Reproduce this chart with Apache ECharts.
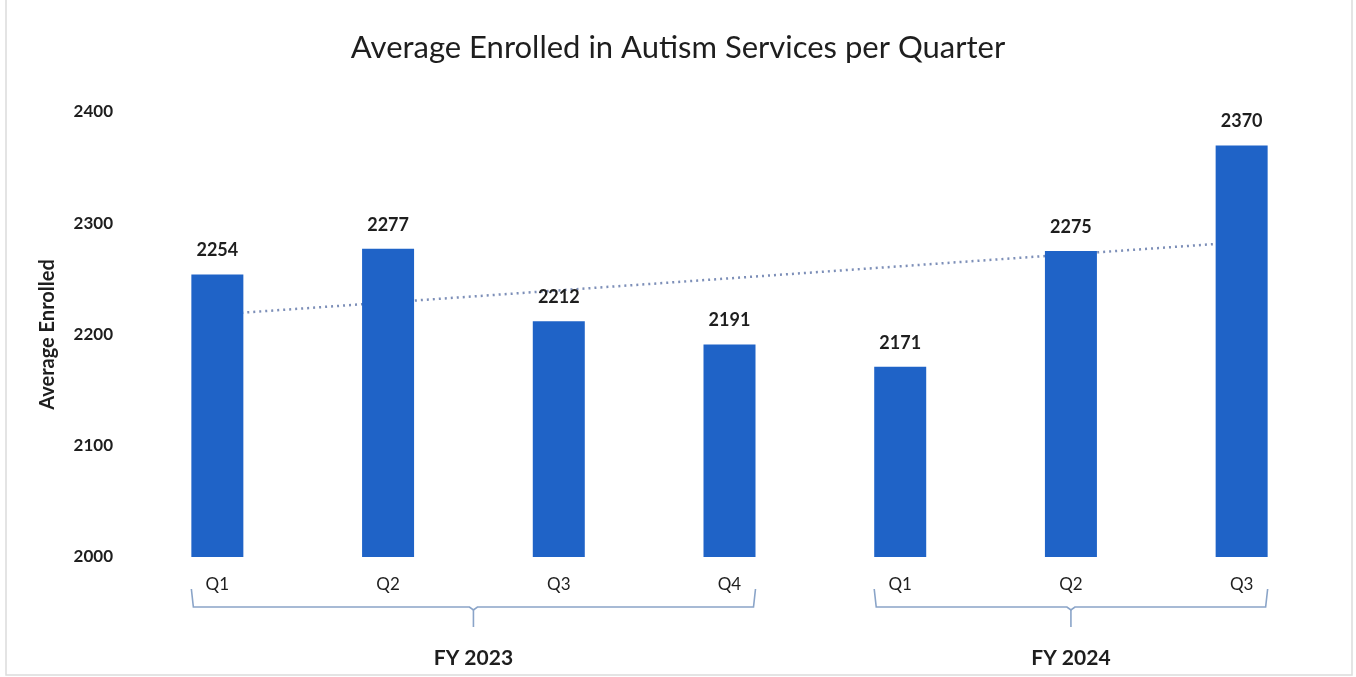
<!DOCTYPE html>
<html>
<head>
<meta charset="utf-8">
<script src="https://cdn.jsdelivr.net/npm/echarts@6/dist/echarts.min.js"></script>
<style>
  html, body { margin: 0; padding: 0; background: #ffffff; }
  #chart { width: 1356px; height: 677px; }
</style>
</head>
<body>
<div id="chart"></div>
<script>
// Quarter labels along the x axis
const quarters = ['Q1', 'Q2', 'Q3', 'Q4', 'Q1', 'Q2', 'Q3'];
// Average enrolled per quarter
const enrolled = [2254, 2277, 2212, 2191, 2171, 2275, 2370];
// Linear trend, value at the first and last quarter
const trendEnds = [2218, 2283];
// Fiscal-year groups: label, first and last quarter index
const fiscalYears = ['FY 2023', 'FY 2024'];
const fyFirst = [0, 4];
const fyLast = [3, 6];
// Y-axis ticks
const yTicks = [2000, 2100, 2200, 2300, 2400];

const FONT = 'Lato, "Open Sans", sans-serif';
const chart = echarts.init(document.getElementById('chart'), null, { renderer: 'canvas' });

const trendData = quarters.map((q, i) =>
  i === 0 ? trendEnds[0] : (i === quarters.length - 1 ? trendEnds[1] : '-'));

chart.setOption({
  backgroundColor: '#ffffff',
  animation: false,
  title: {
    text: 'Average Enrolled in Autism Services per Quarter',
    left: 'center',
    top: 27,
    textStyle: { fontFamily: FONT, fontSize: 31, fontWeight: 'normal', color: '#1e1e1e' }
  },
  grid: { left: 132, right: 29, top: 112, bottom: 120 },
  xAxis: {
    type: 'category',
    data: quarters,
    axisLine: { show: false },
    axisTick: { show: false },
    axisLabel: { fontFamily: FONT, fontSize: 17, color: '#1e1e1e', margin: 19 }
  },
  yAxis: {
    type: 'value',
    min: yTicks[0],
    max: yTicks[yTicks.length - 1],
    interval: 100,
    name: 'Average Enrolled',
    nameLocation: 'middle',
    nameGap: 74,
    nameRotate: 90,
    nameTextStyle: { fontFamily: FONT, fontSize: 20, fontWeight: 'bold', color: '#1e1e1e' },
    splitLine: { show: false },
    axisLine: { show: false },
    axisTick: { show: false },
    axisLabel: {
      fontFamily: FONT, fontSize: 17, fontWeight: 'bold', color: '#1e1e1e', margin: 19,
      formatter: v => String(v)
    }
  },
  series: [
    {
      name: 'Trend',
      type: 'line',
      data: trendData,
      connectNulls: true,
      symbol: 'none',
      z: 1,
      lineStyle: { color: '#7d8fb8', width: 2.5, type: [2, 4] }
    },
    {
      name: 'Average Enrolled',
      type: 'bar',
      data: enrolled,
      barWidth: 52,
      z: 3,
      itemStyle: { color: '#1f63c7' },
      label: {
        show: true,
        position: 'top',
        distance: 15,
        fontFamily: FONT,
        fontSize: 18,
        fontWeight: 'bold',
        color: '#1e1e1e'
      }
    }
  ]
});

// Fiscal-year brackets under the quarter labels, placed from the axis scale
function drawBrackets() {
  const half = 26;
  const yTop = 589, yLine = 607, yStem = 627;
  const elements = [];
  fiscalYears.forEach((fy, k) => {
    const x0 = chart.convertToPixel({ xAxisIndex: 0 }, fyFirst[k]) - half;
    const x1 = chart.convertToPixel({ xAxisIndex: 0 }, fyLast[k]) + half;
    const xm = (x0 + x1) / 2;
    elements.push({
      type: 'polyline',
      shape: { points: [[x0, yTop], [x0 + 2, yLine], [xm - 4, yLine], [xm, yLine + 3], [xm + 4, yLine], [x1 - 2, yLine], [x1, yTop]] },
      style: { stroke: '#8aa4c8', lineWidth: 1.6, fill: null },
      silent: true
    });
    elements.push({
      type: 'line',
      shape: { x1: xm, y1: yLine + 3, x2: xm, y2: yStem },
      style: { stroke: '#8aa4c8', lineWidth: 1.6 },
      silent: true
    });
    elements.push({
      type: 'text',
      x: xm,
      y: 658,
      style: {
        text: fy, align: 'center', verticalAlign: 'middle',
        font: 'bold 21px ' + FONT, fill: '#1e1e1e'
      },
      silent: true
    });
  });
  // light frame round the chart
  elements.push({
    type: 'rect',
    shape: { x: 6, y: -2, width: 1346, height: 677 },
    style: { stroke: '#dcdcdc', lineWidth: 1.5, fill: null },
    silent: true
  });
  chart.setOption({ graphic: { elements: elements } });
}
drawBrackets();
</script>
</body>
</html>
